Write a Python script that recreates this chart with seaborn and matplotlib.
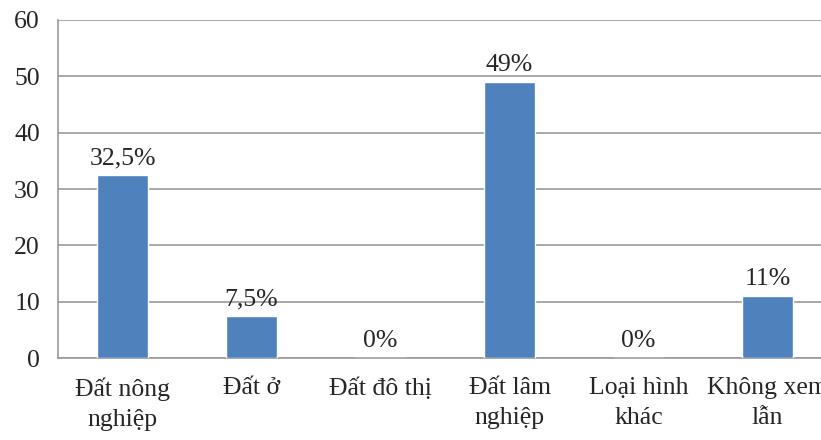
import pandas as pd
import seaborn as sns
import matplotlib.pyplot as plt

categories = ["Đất nông\nnghiệp", "Đất ở", "Đất đô thị", "Đất lâm\nnghiệp", "Loại hình\nkhác", "Không xem\nlẫn"]
values = [32.5, 7.5, 0, 49, 0, 11]
value_labels = ["32,5%", "7,5%", "0%", "49%", "0%", "11%"]

df = pd.DataFrame({"loai": categories, "ty_le": values})

sns.set_style("white")
plt.rcParams["font.family"] = ["Liberation Serif", "DejaVu Serif"]
fs = 18.5

fig = plt.figure(figsize=(8.21, 4.40), dpi=100)
ax = fig.add_axes([58 / 821, 82 / 440, 774 / 821, 338 / 440])

sns.barplot(data=df, x="loai", y="ty_le", color="#4F81BD", width=0.4,
            saturation=1, ax=ax, zorder=3)
ax.bar_label(ax.containers[0], labels=value_labels, padding=4, fontsize=fs)

grid = "#9a9a9a"
ax.set_ylim(0, 60)
ax.set_xlim(-0.5, 5.5)
ax.set_yticks(range(0, 61, 10))
ax.yaxis.grid(True, color=grid, linewidth=1.2, zorder=0)
ax.set_axisbelow(True)
ax.set_xlabel("")
ax.set_ylabel("")

ax.set_xticks([x - 0.5 for x in range(7)], minor=True)
ax.tick_params(axis="x", which="major", length=0, pad=14, labelsize=fs)
ax.tick_params(axis="x", which="minor", length=7, width=1.2, color=grid, direction="out")
ax.tick_params(axis="y", length=8, width=1.2, color=grid, direction="out", pad=5, labelsize=fs)
for lab in ax.get_xticklabels():
    lab.set_linespacing(1.45)
    lab.set_verticalalignment("top")

sns.despine(ax=ax, top=True, right=True)
for s in ["left", "bottom"]:
    ax.spines[s].set_color(grid)
    ax.spines[s].set_linewidth(1.2)

fig.savefig("out.png", dpi=100)
